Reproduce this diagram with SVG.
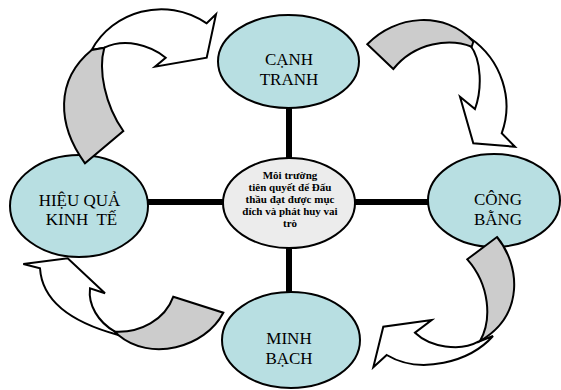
<svg xmlns="http://www.w3.org/2000/svg" width="561" height="390" viewBox="0 0 561 390">
  <style>
    .spoke { stroke: #000; stroke-width: 6; fill: none; }
    .node { fill: #b8dfe2; stroke: #000; stroke-width: 2; }
    .hub { fill: #ececec; stroke: #000; stroke-width: 2; }
    .label { font-family: "Liberation Serif", "Times New Roman", serif; font-size: 17px; fill: #000; text-anchor: middle; }
    .hub-text { font-family: "Liberation Serif", "Times New Roman", serif; font-size: 11px; font-weight: bold; fill: #000; text-anchor: middle; }
    .front { fill: #fff; stroke: #000; stroke-width: 2; stroke-linejoin: miter; }
    .back { fill: #cccccc; stroke: #000; stroke-width: 2; stroke-linejoin: miter; }
  </style>
  <rect width="561" height="390" fill="#fff"/>

  <!-- spokes joining the hub to the four outer nodes -->
  <g id="connectors">
    <line class="spoke" x1="289" y1="100" x2="289" y2="165"/>
    <line class="spoke" x1="140" y1="202" x2="232" y2="202"/>
    <line class="spoke" x1="348" y1="202" x2="436" y2="202"/>
    <line class="spoke" x1="289" y1="240" x2="289" y2="300"/>
  </g>

  <g id="hub">
    <ellipse class="hub" cx="289" cy="203" rx="66" ry="45"/>
    <text class="hub-text" x="290" y="178.5">Môi trường</text>
    <text class="hub-text" x="290" y="190.7">tiên quyết để Đấu</text>
    <text class="hub-text" x="290" y="202.9">thầu đạt được mục</text>
    <text class="hub-text" x="290" y="215.1">đích và phát huy vai</text>
    <text class="hub-text" x="290" y="227.3">trò</text>
  </g>

  <g id="canh-tranh">
    <ellipse class="node" cx="288.5" cy="61.5" rx="70.5" ry="46.5"/>
    <text class="label" x="289" y="65">CẠNH</text>
    <text class="label" x="289" y="84.5">TRANH</text>
  </g>

  <g id="hieu-qua">
    <ellipse class="node" cx="79" cy="206" rx="69" ry="51"/>
    <text class="label" x="79.5" y="205.5">HIỆU QUẢ</text>
    <text class="label" x="81.5" y="224.5" xml:space="preserve">KINH  TẾ</text>
  </g>

  <g id="cong-bang">
    <ellipse class="node" cx="494" cy="200.5" rx="66" ry="46.5"/>
    <text class="label" x="498" y="205">CÔNG</text>
    <text class="label" x="498" y="224.5">BẰNG</text>
  </g>

  <g id="minh-bach">
    <ellipse class="node" cx="291" cy="340" rx="69" ry="48"/>
    <text class="label" x="289" y="344">MINH</text>
    <text class="label" x="289" y="364">BẠCH</text>
  </g>

  <!-- curved arrows cycling round the outer nodes -->
  <g id="arrow-hieuqua-canhtranh">
    <path class="front" d="M91.7,50 C112,12 165,-5 206.7,23.3 L216,14.3 L206.7,57.7 L155,66.7 L165.7,57.7 C150,45 125,38 104.3,47.7 Z"/>
    <path class="back" d="M85,163.3 C57,125 55,80 91.7,50 L104.3,47.7 C98,70 105,105 123.3,131 Z"/>
  </g>

  <g id="arrow-canhtranh-congbang">
    <path class="front" d="M470,38 C502,60 514,100 501.7,133.3 L515,146.7 L473.3,143.3 L460,96.7 L475,109 C482,90 482,60 470,45 Z"/>
    <path class="back" d="M367.3,44.3 C395,15 445,10 473.3,41.7 L471.7,46.7 C450,38 415,42 393.3,69 Z"/>
  </g>

  <g id="arrow-congbang-minhbach">
    <path class="front" d="M493,336 C470,362 420,375 386.7,355 L373.3,367.3 L383.3,326.7 L431.7,320 L415,332.7 C430,347 460,352 478.3,341.7 Z"/>
    <path class="back" d="M467.3,259.3 L497,237 C520,265 525,315 480,341 C492,320 490,285 467.3,259.3 Z"/>
  </g>

  <g id="arrow-minhbach-hieuqua">
    <path class="front" d="M115,331.7 C98,322 88,305 90,288.3 L105,293.3 L67.7,258.3 L23.3,264 L40,268.3 C42,300 70,322 118.3,335 Z"/>
    <path class="back" d="M173.3,296.7 L223.3,312.7 C205,348 150,362 118.3,335 L115,331.7 C140,333 165,320 173.3,296.7 Z"/>
  </g>
</svg>
